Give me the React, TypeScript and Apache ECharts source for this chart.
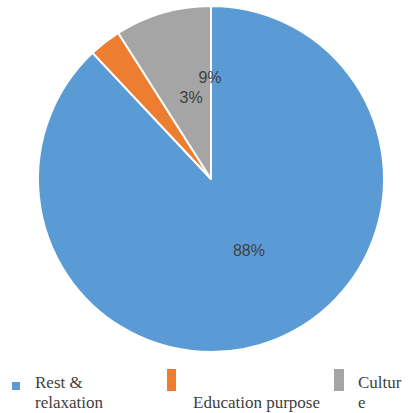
import React, { useEffect, useRef } from "react";
import * as echarts from "echarts";

const categories = ["Rest & relaxation", "Education purpose", "Culture"];
const legendLines = [["Rest &", "relaxation"], ["", "Education purpose"], ["Cultur", "e"]];
const values = [88, 3, 9];
const colors = ["#5B9BD5", "#ED7D31", "#A5A5A5"];
const labelShift = [[5, -12], [35, -11], [24, -16]];
// legend layout: marker rect [x, y, w, h], text x
const legendMarkers = [[12, 382, 8, 8], [167, 369, 9, 22], [334, 369, 10, 22]];
const legendTextX = [35, 193, 358];

export default function App() {
  const ref = useRef<HTMLDivElement>(null);
  useEffect(() => {
    document.body.style.margin = "0";
    const chart = echarts.init(ref.current!, null, { renderer: "svg" });
    const graphics: any[] = [];
    const titles: any[] = [];
    categories.forEach((c, i) => {
      const [x, y, w, h] = legendMarkers[i];
      graphics.push({ type: "rect", shape: { x, y, width: w, height: h }, style: { fill: colors[i] } });
      legendLines[i].forEach((t, j) => {
        if (!t) return;
        titles.push({
          text: t,
          left: legendTextX[i],
          top: 372 + j * 20,
          padding: 0,
          textStyle: {
            fontFamily: "Liberation Serif",
            fontSize: 17,
            fontWeight: "normal",
            color: "#404040",
            lineHeight: 20,
          },
        });
      });
    });
    chart.setOption({
      animation: false,
      backgroundColor: "#ffffff",
      title: titles,
      graphic: graphics,
      series: [
        {
          type: "pie",
          center: [211, 179],
          radius: 173,
          startAngle: 90,
          clockwise: true,
          data: categories.map((c, i) => ({ name: c, value: values[i], itemStyle: { color: colors[i] } })),
          itemStyle: { borderColor: "#ffffff", borderWidth: 2 },
          label: {
            show: true,
            position: "inside",
            formatter: (p: any) => p.value + "%",
            color: "#404040",
            fontFamily: "Liberation Sans",
            fontSize: 16,
          },
          labelLine: { show: false },
          labelLayout: (p: any) => ({ dx: labelShift[p.dataIndex][0], dy: labelShift[p.dataIndex][1] }),
          emphasis: { disabled: true },
        },
      ],
    });
    return () => chart.dispose();
  }, []);
  return <div ref={ref} style={{ width: 409, height: 413 }} />;
}
